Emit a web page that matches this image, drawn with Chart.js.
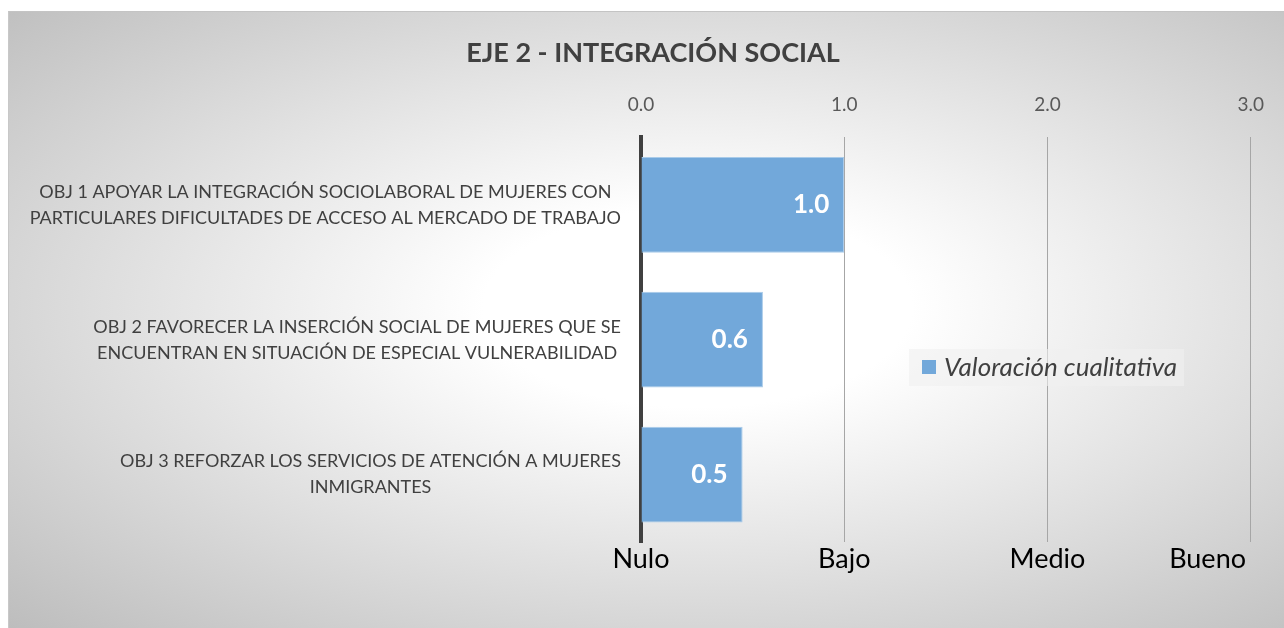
<!DOCTYPE html>
<html>
<head>
<meta charset="utf-8">
<script src="https://cdn.jsdelivr.net/npm/chart.js@4/dist/chart.umd.min.js"></script>
<style>
  html, body { margin: 0; padding: 0; background: #fff; overflow: hidden; }
  #wrap {
    position: absolute; left: 8px; top: 11px; width: 1276px; height: 617px;
    border-top: 1px solid #c4c4c4; border-left: 1px solid #c8c8c8; box-sizing: border-box;
    background: radial-gradient(ellipse at 54% 48%, #ffffff 0%, #ffffff 22%, #bdbdbd 100%);
  }
  canvas { position: absolute; left: 0; top: 0; }
</style>
</head>
<body>
<div id="wrap"><canvas id="myChart" width="1276" height="617"></canvas></div>
<script>
const categorias = [
  ['OBJ 1 APOYAR LA INTEGRACIÓN SOCIOLABORAL DE MUJERES CON', 'PARTICULARES DIFICULTADES DE ACCESO AL MERCADO DE TRABAJO'],
  ['OBJ 2 FAVORECER LA INSERCIÓN SOCIAL DE MUJERES QUE SE', 'ENCUENTRAN EN SITUACIÓN DE ESPECIAL VULNERABILIDAD'],
  ['OBJ 3 REFORZAR LOS SERVICIOS DE ATENCIÓN A MUJERES', 'INMIGRANTES']
];
const valoracion = [1.0, 0.6, 0.5];
const niveles = ['Nulo', 'Bajo', 'Medio', 'Bueno'];
const nivelValores = [0, 1, 2, 3];

const FONT = 'Lato';

// etiquetas del eje y: bloque alineado a la derecha, lineas centradas
const yLabels = {
  id: 'yLabels',
  afterDraw(chart) {
    let ctx = chart.ctx;
    let y = chart.scales.y;
    ctx.save();
    ctx.font = '18px ' + FONT;
    ctx.fillStyle = '#404040';
    ctx.textAlign = 'center';
    ctx.textBaseline = 'middle';
    chart.data.labels.forEach(function(lines, i) {
      let w = Math.max.apply(null, lines.map(l => ctx.measureText(l).width));
      let cx = chart.chartArea.left - 20 - w / 2;
      let cy = y.getPixelForValue(i);
      let lh = 26;
      lines.forEach(function(l, k) {
        ctx.fillText(l, cx, cy + (k - (lines.length - 1) / 2) * lh);
      });
    });
    ctx.restore();
  }
};

// niveles cualitativos bajo el eje x
const nivelLabels = {
  id: 'nivelLabels',
  afterDraw(chart) {
    let ctx = chart.ctx;
    let x = chart.scales.x;
    ctx.save();
    ctx.font = '27px ' + FONT;
    ctx.fillStyle = '#000';
    ctx.textAlign = 'center';
    ctx.textBaseline = 'middle';
    niveles.forEach(function(n, i) {
      let w = ctx.measureText(n).width;
      let px = Math.min(x.getPixelForValue(nivelValores[i]), chart.width - 39 - w / 2);
      ctx.fillText(n, px, chart.chartArea.bottom + 17);
    });
    ctx.restore();
  }
};

// valores dentro de las barras
const barValues = {
  id: 'barValues',
  afterDatasetsDraw(chart) {
    let ctx = chart.ctx;
    ctx.save();
    ctx.font = 'bold 26px ' + FONT;
    ctx.fillStyle = '#fff';
    ctx.textAlign = 'right';
    ctx.textBaseline = 'middle';
    chart.getDatasetMeta(0).data.forEach(function(bar, i) {
      ctx.fillText(valoracion[i].toFixed(1), bar.x - 15, bar.y);
    });
    ctx.restore();
  }
};

// leyenda flotante
const floatLegend = {
  id: 'floatLegend',
  afterDraw(chart) {
    let ctx = chart.ctx;
    let ds = chart.data.datasets[0];
    ctx.save();
    ctx.fillStyle = 'rgba(240,240,240,0.6)';
    ctx.fillRect(900, 337, 275, 37);
    ctx.fillStyle = ds.backgroundColor;
    ctx.fillRect(913, 348, 14, 14);
    ctx.font = 'italic 26px ' + FONT;
    ctx.fillStyle = '#404040';
    ctx.textBaseline = 'middle';
    ctx.fillText(ds.label, 935, 356);
    ctx.restore();
  }
};

let ctx = document.getElementById('myChart').getContext('2d');

let chart = new Chart(ctx, {
  type: 'bar',
  data: {
    labels: categorias,
    datasets: [{
      label: 'Valoración cualitativa',
      data: valoracion,
      backgroundColor: '#72a8da',
      borderColor: '#a9cbe9',
      borderWidth: 1,
      borderSkipped: 'start',
      categoryPercentage: 1,
      barPercentage: 0.71
    }]
  },
  options: {
    indexAxis: 'y',
    responsive: false,
    animation: false,
    layout: { padding: { left: 46, right: 34, top: 0, bottom: 87 } },
    plugins: {
      legend: { display: false },
      tooltip: { enabled: false },
      title: {
        display: true,
        text: 'EJE 2 - INTEGRACIÓN SOCIAL',
        color: '#404040',
        font: { family: FONT, size: 27, weight: 'bold' },
        padding: { top: 25, bottom: 10 }
      }
    },
    scales: {
      x: {
        position: 'top',
        min: 0,
        max: 3,
        ticks: {
          stepSize: 1,
          color: '#595959',
          font: { family: FONT, size: 19 },
          padding: 21,
          callback: v => v.toFixed(1)
        },
        grid: { color: '#a6a6a6', lineWidth: 1, drawTicks: false },
        border: { display: false },
        afterFit: function(s) { s.height = 58; }
      },
      y: {
        ticks: { display: false },
        grid: { display: false },
        border: { color: '#404040', width: 4 },
        afterFit: function(s) { s.width = 586; }
      }
    }
  },
  plugins: [yLabels, nivelLabels, barValues, floatLegend]
});
</script>
</body>
</html>
